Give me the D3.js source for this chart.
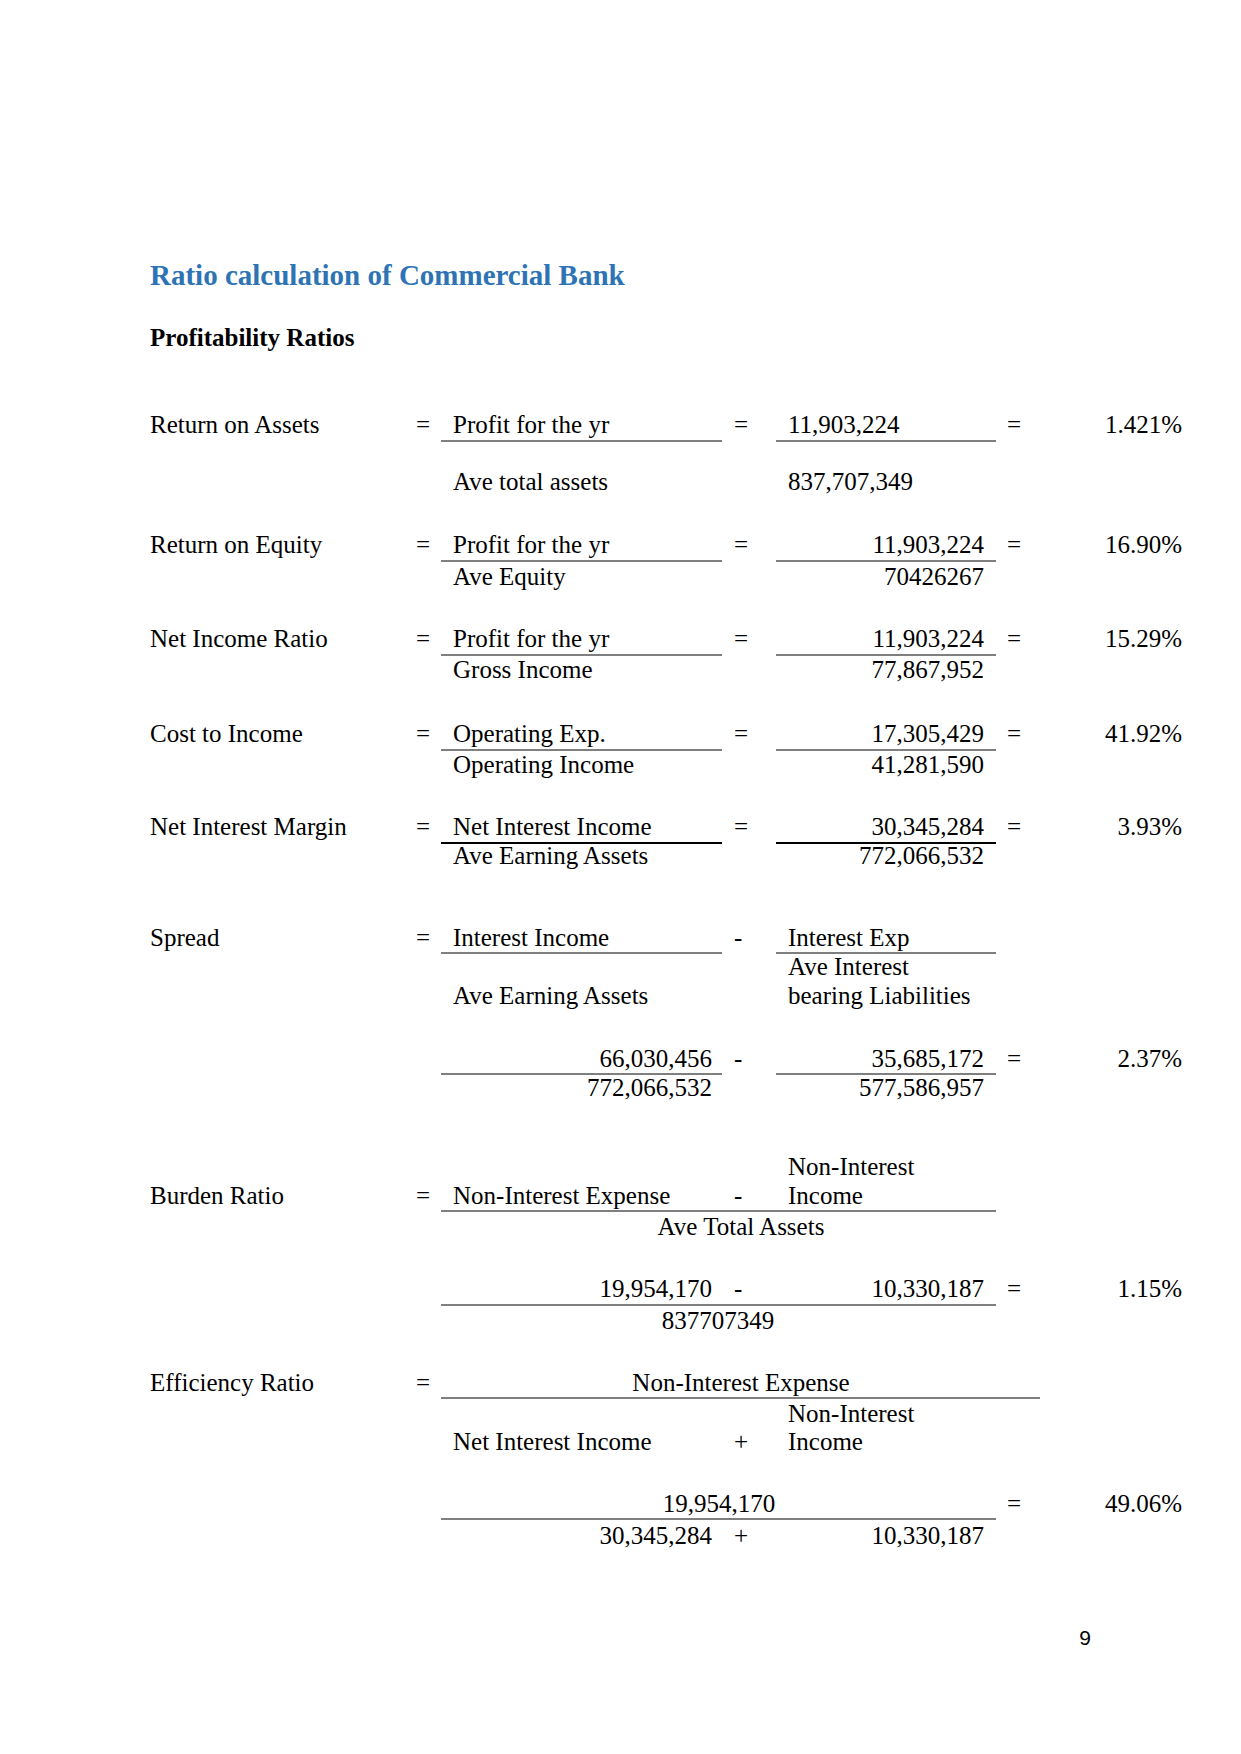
<!DOCTYPE html>
<html lang="en">
<head>
<meta charset="UTF-8">
<title>Ratio calculation of Commercial Bank</title>
<script src="https://cdn.jsdelivr.net/npm/d3@7"></script>
<style>
    body { margin: 0; background: #fff; }
    svg text { font-family: "Liberation Serif", "Times New Roman", serif; font-size: 25px; fill: #000; }
    svg text.title { font-size: 29px; font-weight: bold; fill: #2e74b5; }
    svg text.heading { font-weight: bold; }
    svg text.pageno { font-family: "Liberation Sans", "DejaVu Sans", sans-serif; font-size: 21px; }
</style>
</head>
<body>
<script>
// simple ratios: label = numerator / denominator
const simpleLabels = ["Return on Assets", "Return on Equity", "Net Income Ratio", "Cost to Income", "Net Interest Margin"];
const simpleNumTerms = ["Profit for the yr", "Profit for the yr", "Profit for the yr", "Operating Exp.", "Net Interest Income"];
const simpleDenTerms = ["Ave total assets", "Ave Equity", "Gross Income", "Operating Income", "Ave Earning Assets"];
const simpleNumValues = ["11,903,224", "11,903,224", "11,903,224", "17,305,429", "30,345,284"];
const simpleDenValues = ["837,707,349", "70426267", "77,867,952", "41,281,590", "772,066,532"];
const simpleResults = ["1.421%", "16.90%", "15.29%", "41.92%", "3.93%"];

// spread
const spreadTerms = ["Interest Income", "Ave Earning Assets", "Interest Exp", "Ave Interest", "bearing Liabilities"];
const spreadValues = ["66,030,456", "772,066,532", "35,685,172", "577,586,957"];
const spreadResult = "2.37%";

// burden ratio
const burdenTerms = ["Non-Interest Expense", "Non-Interest", "Income", "Ave Total Assets"];
const burdenValues = ["19,954,170", "10,330,187", "837707349"];
const burdenResult = "1.15%";

// efficiency ratio
const effTerms = ["Non-Interest Expense", "Net Interest Income", "Non-Interest", "Income"];
const effValues = ["19,954,170", "30,345,284", "10,330,187"];
const effResult = "49.06%";

const width = 1241, height = 1754;
const svg = d3.select("body").append("svg").attr("width", width).attr("height", height);
const head = svg.append("g");
const body = svg.append("g");

// column positions
const col = {
    label: 150, eq1: 416, termL: 453, lineL0: 441, lineL1: 722, leftNumR: 712,
    op2: 734, termR: 788, lineR0: 776, lineR1: 996, numR: 984,
    eq3: 1007, result: 1182, mid: 741
};

function txt(x, y, s, anchor, cls, parent) {
    return (parent || body).append("text")
        .attr("x", x).attr("y", y)
        .attr("text-anchor", anchor || "start")
        .attr("class", cls || null)
        .text(s);
}

function hline(x0, x1, y, w) {
    body.append("line")
        .attr("x1", x0).attr("x2", x1)
        .attr("y1", y).attr("y2", y)
        .attr("stroke", "#000")
        .attr("stroke-width", w || 1.2);
}

// Ueberschriften
txt(col.label, 285, "Ratio calculation of Commercial Bank", "start", "title", head);
txt(col.label, 346, "Profitability Ratios", "start", "heading", head);

// einfache Kennzahlen
const simpleRows = [433, 553, 647, 742, 835];
const denGap = [57, 32, 31, 31, 29];
simpleRows.forEach((y, i) => {
    txt(col.label, y, simpleLabels[i]);
    txt(col.eq1, y, "=");
    txt(col.termL, y, simpleNumTerms[i]);
    txt(col.op2, y, "=");
    txt(col.eq3, y, "=");
    txt(col.result, y, simpleResults[i], "end");
    const w = i === 4 ? 2.2 : 1.2;
    hline(col.lineL0, col.lineL1, y + 8, w);
    hline(col.lineR0, col.lineR1, y + 8, w);
    txt(col.termL, y + denGap[i], simpleDenTerms[i]);
    if (i === 0) {
        txt(col.termR, y, simpleNumValues[i]);
        txt(col.termR, y + denGap[i], simpleDenValues[i]);
    } else {
        txt(col.numR, y, simpleNumValues[i], "end");
        txt(col.numR, y + denGap[i], simpleDenValues[i], "end");
    }
});

// Spread
txt(col.label, 946, "Spread");
txt(col.eq1, 946, "=");
txt(col.termL, 946, spreadTerms[0]);
txt(col.op2, 946, "-");
txt(col.termR, 946, spreadTerms[2]);
hline(col.lineL0, col.lineL1, 953);
hline(col.lineR0, col.lineR1, 953);
txt(col.termR, 975, spreadTerms[3]);
txt(col.termL, 1004, spreadTerms[1]);
txt(col.termR, 1004, spreadTerms[4]);

txt(col.leftNumR, 1067, spreadValues[0], "end");
txt(col.op2, 1067, "-");
txt(col.numR, 1067, spreadValues[2], "end");
txt(col.eq3, 1067, "=");
txt(col.result, 1067, spreadResult, "end");
hline(col.lineL0, col.lineL1, 1074);
hline(col.lineR0, col.lineR1, 1074);
txt(col.leftNumR, 1096, spreadValues[1], "end");
txt(col.numR, 1096, spreadValues[3], "end");

// Burden Ratio
txt(col.termR, 1175, burdenTerms[1]);
txt(col.label, 1204, "Burden Ratio");
txt(col.eq1, 1204, "=");
txt(col.termL, 1204, burdenTerms[0]);
txt(col.op2, 1204, "-");
txt(col.termR, 1204, burdenTerms[2]);
hline(col.lineL0, col.lineR1, 1211);
txt(col.mid, 1235, burdenTerms[3], "middle");

txt(col.leftNumR, 1297, burdenValues[0], "end");
txt(col.op2, 1297, "-");
txt(col.numR, 1297, burdenValues[1], "end");
txt(col.eq3, 1297, "=");
txt(col.result, 1297, burdenResult, "end");
hline(col.lineL0, col.lineR1, 1305);
txt(718, 1329, burdenValues[2], "middle");

// Efficiency Ratio
txt(col.label, 1391, "Efficiency Ratio");
txt(col.eq1, 1391, "=");
txt(col.mid, 1391, effTerms[0], "middle");
hline(col.lineL0, 1040, 1398);
txt(col.termR, 1422, effTerms[2]);
txt(col.termL, 1450, effTerms[1]);
txt(col.op2, 1450, "+");
txt(col.termR, 1450, effTerms[3]);

txt(719, 1512, effValues[0], "middle");
txt(col.eq3, 1512, "=");
txt(col.result, 1512, effResult, "end");
hline(col.lineL0, col.lineR1, 1519);
txt(col.leftNumR, 1544, effValues[1], "end");
txt(col.op2, 1544, "+");
txt(col.numR, 1544, effValues[2], "end");

// Seitenzahl
txt(1085, 1645, "9", "middle", "pageno", head);
</script>
</body>
</html>
